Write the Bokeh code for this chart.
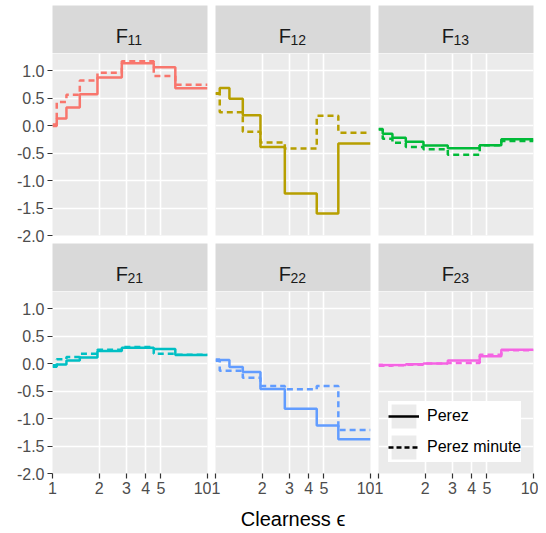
from bokeh.plotting import figure
from bokeh.layouts import column, row
from bokeh.models import Range1d, FixedTicker, NumeralTickFormatter, Legend, LegendItem
from bokeh.embed import file_html
from bokeh.resources import INLINE
from bokeh.core.properties import value

# ---- data ----
eps_edges = [1.0, 1.065, 1.23, 1.5, 1.95, 2.8, 4.5, 6.2, 10.0]
coef_names = ["11", "12", "13", "21", "22", "23"]
f11_perez = [-0.008, 0.130, 0.330, 0.568, 0.873, 1.132, 1.060, 0.678]
f11_minute = [0.02, 0.43, 0.56, 0.82, 0.96, 1.17, 0.90, 0.74]
f12_perez = [0.588, 0.683, 0.487, 0.187, -0.392, -1.237, -1.600, -0.327]
f12_minute = [0.58, 0.24, 0.24, -0.115, -0.31, -0.42, 0.18, -0.13]
f13_perez = [-0.062, -0.151, -0.221, -0.295, -0.362, -0.412, -0.359, -0.250]
f13_minute = [-0.07, -0.24, -0.315, -0.39, -0.43, -0.53, -0.36, -0.28]
f21_perez = [-0.060, -0.019, 0.055, 0.109, 0.226, 0.288, 0.264, 0.156]
f21_minute = [-0.03, 0.08, 0.12, 0.18, 0.25, 0.30, 0.18, 0.16]
f22_perez = [0.072, 0.066, -0.064, -0.152, -0.462, -0.823, -1.127, -1.377]
f22_minute = [0.05, -0.13, -0.13, -0.26, -0.41, -0.47, -0.41, -1.21]
f23_perez = [-0.022, -0.029, -0.026, -0.014, 0.001, 0.056, 0.131, 0.251]
f23_minute = [-0.04, -0.04, -0.03, -0.02, 0.0, 0.01, 0.16, 0.24]
series_names = ["Perez", "Perez minute"]
x_ticks = [1, 2, 3, 4, 5, 10]
y_ticks = [-2.0, -1.5, -1.0, -0.5, 0.0, 0.5, 1.0]

perez_sets = [f11_perez, f12_perez, f13_perez, f21_perez, f22_perez, f23_perez]
minute_sets = [f11_minute, f12_minute, f13_minute, f21_minute, f22_minute, f23_minute]
colors = ["#F8766D", "#B79F00", "#00BA38", "#00BFC4", "#619CFF", "#F564E3"]

FONT = "Liberation Sans"
FW, FH = 155, 182
SH = 48


def borders(c):
    left = 52 if c == 0 else 4
    right = 4 if c < 2 else 5
    return left, right


def make_strip(name, c, top):
    left, right = borders(c)
    s = figure(x_range=Range1d(0, 1), y_range=Range1d(SH, 0),
               frame_width=FW, frame_height=SH,
               min_border_left=left, min_border_right=right,
               min_border_top=top, min_border_bottom=0,
               x_axis_location=None, y_axis_location=None,
               toolbar_location=None, output_backend="svg",
               background_fill_color="#D9D9D9", border_fill_color="white",
               outline_line_color=None)
    s.xgrid.visible = False
    s.ygrid.visible = False
    s.text(x=[0.5], y=[30.2], text=["F"], text_align="right",
           text_baseline="alphabetic", x_offset=-2,
           text_font=value(FONT), text_font_size="20px", text_color="#1A1A1A")
    s.text(x=[0.5], y=[34.5], text=[name], text_align="left",
           text_baseline="alphabetic", x_offset=-2.5,
           text_font=value(FONT), text_font_size="14px", text_color="#1A1A1A")
    return s


def style_axis(ax):
    ax.axis_line_color = None
    ax.major_tick_line_color = "#333333"
    ax.major_tick_line_width = 1.2
    ax.major_tick_out = 5
    ax.major_tick_in = 0
    ax.minor_tick_line_color = None
    ax.major_label_text_font = FONT
    ax.major_label_text_font_size = "16px"
    ax.major_label_text_color = "#4D4D4D"
    ax.major_label_standoff = 3


def make_panel(i, r, c):
    left, right = borders(c)
    bottom = 8 if r == 0 else 60
    p = figure(x_axis_type="log", x_range=Range1d(1, 10), y_range=Range1d(-2.0, 1.31),
               frame_width=FW, frame_height=FH,
               min_border_left=left, min_border_right=right,
               min_border_top=0, min_border_bottom=bottom,
               x_axis_location="below" if r == 1 else None,
               y_axis_location="left" if c == 0 else None,
               toolbar_location=None, output_backend="svg",
               background_fill_color="#EBEBEB", border_fill_color="white",
               outline_line_color=None)
    p.xgrid.ticker = FixedTicker(ticks=x_ticks)
    p.ygrid.ticker = FixedTicker(ticks=y_ticks)
    for g in (p.xgrid[0], p.ygrid[0]):
        g.grid_line_color = "white"
        g.grid_line_width = 1.6
    if r == 1:
        ax = p.xaxis[0]
        ax.ticker = FixedTicker(ticks=x_ticks)
        ax.formatter = NumeralTickFormatter(format="0")
        style_axis(ax)
        if c == 1:
            ax.axis_label = "Clearness \u03f5"
            ax.axis_label_text_font = FONT
            ax.axis_label_text_font_size = "20px"
            ax.axis_label_text_font_style = "normal"
            ax.axis_label_text_color = "black"
            ax.axis_label_standoff = 11
    if c == 0:
        ax = p.yaxis[0]
        ax.ticker = FixedTicker(ticks=y_ticks)
        ax.formatter = NumeralTickFormatter(format="0.0")
        style_axis(ax)

    xs = eps_edges
    y1 = perez_sets[i] + [perez_sets[i][-1]]
    y2 = minute_sets[i] + [minute_sets[i][-1]]
    p.step(x=xs, y=y1, mode="after", line_color=colors[i], line_width=2.5)
    p.step(x=xs, y=y2, mode="after", line_color=colors[i], line_width=2.5,
           line_dash="6 4")

    if i == 5:
        nan = float("nan")
        k1 = p.quad(left=[nan], right=[nan], top=[nan], bottom=[nan],
                    fill_color="#EBEBEB", line_color=None)
        k2 = p.quad(left=[nan], right=[nan], top=[nan], bottom=[nan],
                    fill_color="#EBEBEB", line_color=None)
        r1 = p.line(x=[1.0, 2.0], y=[nan, nan], line_color="black", line_width=2.5)
        r2 = p.line(x=[1.0, 2.0], y=[nan, nan], line_color="black", line_width=2.5,
                    line_dash="5 3")
        leg = Legend(items=[LegendItem(label=series_names[0], renderers=[k1, r1]),
                            LegendItem(label=series_names[1], renderers=[k2, r2])],
                     location=(10, 11), orientation="vertical",
                     background_fill_color="white", background_fill_alpha=1.0,
                     border_line_color=None,
                     label_text_font=FONT, label_text_font_size="16px",
                     label_text_color="black",
                     glyph_width=31, glyph_height=30, spacing=1,
                     padding=2, margin=0, label_standoff=8)
        p.add_layout(leg)
    return p


strips1 = [make_strip(coef_names[c], c, 5) for c in range(3)]
panels1 = [make_panel(c, 0, c) for c in range(3)]
strips2 = [make_strip(coef_names[3 + c], c, 0) for c in range(3)]
panels2 = [make_panel(3 + c, 1, c) for c in range(3)]

layout = column(row(*strips1), row(*panels1), row(*strips2), row(*panels2))

open("out.html", "w").write(file_html(layout, INLINE))
